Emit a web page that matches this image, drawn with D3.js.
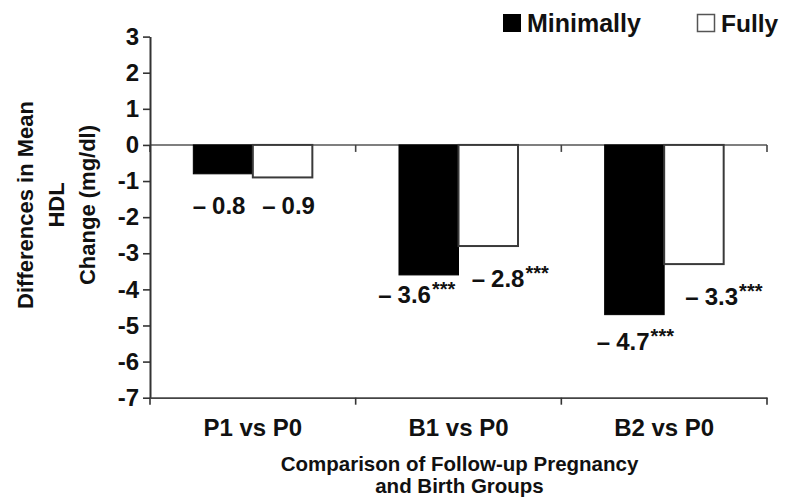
<!DOCTYPE html>
<html>
<head>
<meta charset="utf-8">
<script src="https://cdn.jsdelivr.net/npm/d3@7"></script>
<style>
  html, body { margin: 0; padding: 0; background: #fff; }
  svg { display: block; font-family: "Liberation Sans", Arial, Helvetica, sans-serif; font-weight: bold; }
</style>
</head>
<body>
<script>
// ---------- data ----------
const categories = ["P1 vs P0", "B1 vs P0", "B2 vs P0"];
const seriesNames = ["Minimally", "Fully"];
const minimallyValues = [-0.8, -3.6, -4.7];
const fullyValues = [-0.9, -2.8, -3.3];
const minimallySig = ["", "***", "***"];
const fullySig = ["", "***", "***"];
const yTickValues = [3, 2, 1, 0, -1, -2, -3, -4, -5, -6, -7];
const yTitleLines = ["Differences in Mean", "HDL", "Change (mg/dl)"];
const xTitleLines = ["Comparison of Follow-up Pregnancy", "and Birth Groups"];

// ---------- layout ----------
const W = 786, H = 500;
const left = 150, right = 767, yTop = 36.6, yBottom = 397.7;
// label nudges (dx from bar centre, dy below bar end), per series per category
const labelNudge = {
  Minimally: [[-4, 40], [-12, 28], [1, 35]],
  Fully: [[6, 36.5], [22, 41], [30, 41]]
};

const svg = d3.select("body").append("svg").attr("width", W).attr("height", H);

const x0 = d3.scaleBand().domain(categories).range([left, right]).paddingInner(0).paddingOuter(0);
const x1 = d3.scaleBand().domain(seriesNames).range([0, x0.bandwidth()]).paddingInner(0).paddingOuter(0.728);
const y = d3.scaleLinear().domain([-7, 3]).range([yBottom, yTop]);

const series = [
  { name: "Minimally", values: minimallyValues, sig: minimallySig, fill: "#000", stroke: "#000" },
  { name: "Fully", values: fullyValues, sig: fullySig, fill: "#fff", stroke: "#3a3a3a" }
];

const boundaries = categories.map(c => x0(c)).concat([x0.range()[1]]);

// zero line with boundary ticks
const zero = svg.append("g");
zero.append("line").attr("x1", left).attr("x2", right).attr("y1", y(0)).attr("y2", y(0))
  .attr("stroke", "#555").attr("stroke-width", 1.6);
zero.selectAll("line.t").data(boundaries).join("line").attr("class", "t")
  .attr("x1", d => d).attr("x2", d => d).attr("y1", y(0)).attr("y2", y(0) + 7)
  .attr("stroke", "#444").attr("stroke-width", 1.6);

// bars
series.forEach(s => {
  svg.append("g").selectAll("rect").data(categories).join("rect")
    .attr("x", c => x0(c) + x1(s.name))
    .attr("y", y(0))
    .attr("width", x1.bandwidth())
    .attr("height", (c, i) => y(s.values[i]) - y(0))
    .attr("fill", s.fill)
    .attr("stroke", s.stroke)
    .attr("stroke-width", s.name === "Fully" ? 2 : 1);
});

// y axis
const yAxis = svg.append("g").attr("transform", `translate(${left},0)`)
  .call(d3.axisLeft(y).tickValues(yTickValues).tickSize(7).tickSizeOuter(0).tickPadding(4)
    .tickFormat(d => String(d)));
yAxis.select(".domain").attr("stroke", "#333").attr("stroke-width", 2);
yAxis.selectAll(".tick line").attr("stroke", "#333").attr("stroke-width", 1.6);
yAxis.selectAll(".tick text").attr("font-size", 24).attr("font-weight", "bold")
  .attr("font-family", "Liberation Sans, Arial, sans-serif").attr("fill", "#111");

// bottom axis
const xAxis = svg.append("g").attr("transform", `translate(0,${y(-7)})`)
  .call(d3.axisBottom(x0).tickSize(0).tickSizeOuter(0).tickPadding(0));
xAxis.select(".domain").attr("stroke", "#444").attr("stroke-width", 1.8);
xAxis.selectAll(".tick text").attr("font-size", 24).attr("font-weight", "bold")
  .attr("font-family", "Liberation Sans, Arial, sans-serif").attr("fill", "#111")
  .attr("dy", null).attr("y", 38);
svg.append("g").selectAll("line").data(boundaries).join("line")
  .attr("x1", d => d).attr("x2", d => d).attr("y1", y(-7)).attr("y2", y(-7) + 7)
  .attr("stroke", "#333").attr("stroke-width", 1.6);

// value labels
series.forEach(s => {
  categories.forEach((c, i) => {
    const [dx, dy] = labelNudge[s.name][i];
    const cx = x0(c) + x1(s.name) + x1.bandwidth() / 2 + dx;
    const t = svg.append("text").attr("x", cx).attr("y", y(s.values[i]) + dy)
      .attr("text-anchor", "middle").attr("font-size", 24).attr("fill", "#111");
    t.append("tspan").text("\u2013");
    t.append("tspan").attr("dx", 6).text(Math.abs(s.values[i]).toFixed(1));
    if (s.sig[i]) {
      t.append("tspan").attr("font-size", 20).attr("dy", -7).attr("dx", 1).text(s.sig[i]);
    }
  });
});

// legend
const legend = svg.append("g");
legend.append("rect").attr("x", 503).attr("y", 14).attr("width", 18).attr("height", 18).attr("fill", "#000");
legend.append("text").attr("x", 527).attr("y", 32).attr("font-size", 25).attr("fill", "#111").text(seriesNames[0]);
legend.append("rect").attr("x", 697.5).attr("y", 14.5).attr("width", 17).attr("height", 17)
  .attr("fill", "#fff").attr("stroke", "#555").attr("stroke-width", 1.5);
legend.append("text").attr("x", 721).attr("y", 32).attr("font-size", 24.5).attr("fill", "#111").text(seriesNames[1]);

// y title
const yBase = [33, 64, 95];
yTitleLines.forEach((line, i) => {
  svg.append("text").attr("transform", `translate(${yBase[i]},205) rotate(-90)`)
    .attr("text-anchor", "middle").attr("font-size", 22).attr("fill", "#111").text(line);
});

// x title
xTitleLines.forEach((line, i) => {
  svg.append("text").attr("x", (left + right) / 2 + 1).attr("y", 471 + i * 22)
    .attr("text-anchor", "middle").attr("font-size", 20.5).attr("fill", "#111").text(line);
});
</script>
</body>
</html>
